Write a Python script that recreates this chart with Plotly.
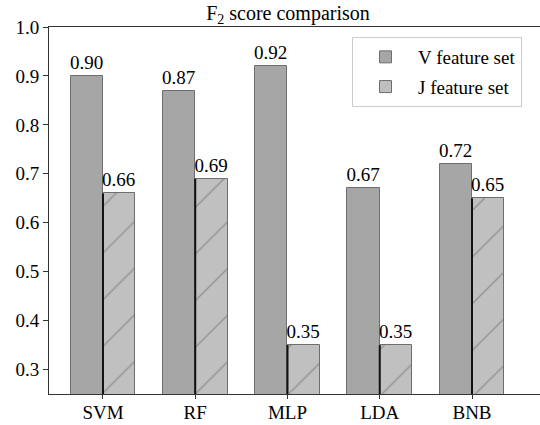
import plotly.graph_objects as go

categories = ["SVM", "RF", "MLP", "LDA", "BNB"]
v_scores = [0.90, 0.87, 0.92, 0.67, 0.72]
j_scores = [0.66, 0.69, 0.35, 0.35, 0.65]
series_names = ["V feature set", "J feature set"]
y_ticks = [0.3, 0.4, 0.5, 0.6, 0.7, 0.8, 0.9, 1.0]

FONT = "Liberation Serif"
FS = 19
W = 0.35
pos = list(range(len(categories)))
y_min = 0.25

fig = go.Figure()
fig.add_trace(go.Bar(
    x=[p - W / 2 for p in pos], y=v_scores, width=W, name=series_names[0],
    legendgroup="v",
    marker=dict(color="#a6a6a6", line=dict(color="#6e6e6e", width=1)),
    text=[f"{v:.2f}" for v in v_scores], textposition="outside",
    textfont=dict(size=FS, color="black", family=FONT), constraintext="none",
    cliponaxis=False,
))
fig.add_trace(go.Bar(
    x=[p + W / 2 for p in pos], y=j_scores, width=W, name=series_names[1],
    legendgroup="j",
    marker=dict(color="#c0c0c0", line=dict(color="#6e6e6e", width=1),
                pattern=dict(shape="/", fgcolor="#606060", size=33,
                             solidity=0.04, fillmode="overlay")),
    text=[f"{v:.2f}" for v in j_scores], textposition="outside",
    textfont=dict(size=FS, color="black", family=FONT), constraintext="none",
    cliponaxis=False,
))
# dark separating line at each category centre, up to the J bar top
lx, ly = [], []
for p, j in zip(pos, j_scores):
    lx += [p, p, None]
    ly += [y_min - 0.008, j, None]
fig.add_trace(go.Scatter(x=lx, y=ly, mode="lines", line=dict(color="#111111", width=2),
                         showlegend=False, hoverinfo="skip", cliponaxis=False))

fig.update_layout(
    width=540, height=425,
    margin=dict(l=49, r=0, t=27, b=31),
    plot_bgcolor="white", paper_bgcolor="white",
    font=dict(family=FONT, size=FS, color="black"),
    barmode="overlay",
    title=dict(text="F<sub>2</sub> score comparison", x=288 / 540, xanchor="center",
               y=1 - 13 / 425, yanchor="middle", font=dict(size=20, family=FONT)),
    xaxis=dict(range=[-0.585, 4.737], tickvals=pos, ticktext=categories,
               showline=True, linecolor="#333333", linewidth=1, mirror=True,
               ticks="outside", ticklen=4, tickcolor="#333333", ticklabelstandoff=-3,
               showgrid=False, zeroline=False, tickfont=dict(size=FS, family=FONT)),
    yaxis=dict(range=[y_min, 1.0], tickvals=y_ticks, ticktext=[f"{t:.1f}" for t in y_ticks],
               showline=True, linecolor="#333333", linewidth=1, mirror=False,
               ticks="outside", ticklen=5, tickcolor="#333333",
               showgrid=False, zeroline=False, tickfont=dict(size=FS, family=FONT)),
    legend=dict(x=(352 - 49) / 491, y=(394 - 37) / 367, xanchor="left", yanchor="top",
                bgcolor="white", bordercolor="#cccccc", borderwidth=1,
                traceorder="grouped", tracegroupgap=2, itemwidth=55,
                font=dict(size=FS, family=FONT)),
    bargap=0,
)

fig.write_html("out.html", config={"displayModeBar": False},
               post_script="document.body.style.margin='0';")
